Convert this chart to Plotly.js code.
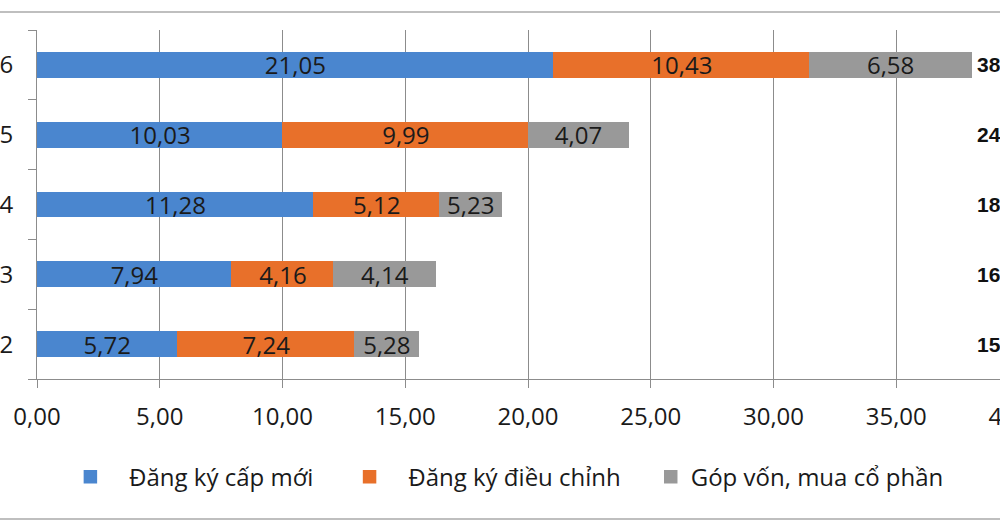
<!DOCTYPE html>
<html>
<head>
<meta charset="utf-8">
<script src="https://cdn.plot.ly/plotly-3.0.1.min.js"></script>
<style>
  html, body { margin: 0; padding: 0; overflow: hidden; background: #fff; }
  #chart { position: absolute; left: -60px; top: 0; width: 1160px; height: 525px; }
</style>
</head>
<body>
<div id="chart"></div>
<script>
var years = ['2012', '2013', '2014', '2015', '2016'];

var newReg = [5.72, 7.94, 11.28, 10.03, 21.05];
var adjReg = [7.24, 4.16, 5.12, 9.99, 10.43];
var shareBuy = [2.58, 4.14, 2.53, 4.07, 6.58];

// labels as printed on the bars
var newLabels = ['5,72', '7,94', '11,28', '10,03', '21,05'];
var adjLabels = ['7,24', '4,16', '5,12', '9,99', '10,43'];
var shareLabels = ['5,28', '4,14', '5,23', '4,07', '6,58'];

var totalLabels = ['15,54', '16,24', '18,93', '24,09', '38,06'];

var xTicks = [0, 5, 10, 15, 20, 25, 30, 35, 40];

var textFont = { family: 'Open Sans', size: 24, color: '#1a1a1a' };

// non-breaking spaces to get the wider legend spacing of the original
var pad = function (n) { return new Array(n + 1).join('\u00a0'); };

function barTrace(name, values, labels, color) {
  return {
    type: 'bar',
    orientation: 'h',
    name: name,
    y: years,
    x: values,
    text: labels,
    textposition: 'inside',
    insidetextanchor: 'middle',
    constraintext: 'none',
    textfont: textFont,
    // outline in the fill colour, so the legend square comes out bigger
    marker: { color: color, line: { color: color, width: 1.5 } },
    hoverinfo: 'skip'
  };
}

var data = [
  barTrace(pad(3) + 'Đăng ký cấp mới' + pad(5), newReg, newLabels, '#4a86cf'),
  barTrace(pad(3) + 'Đăng ký điều chỉnh' + pad(4), adjReg, adjLabels, '#e8702a'),
  barTrace('Góp vốn, mua cổ phần', shareBuy, shareLabels, '#999999')
];

// totals on the right, placed by category index
var annotations = years.map(function (yr, i) {
  return {
    xref: 'x', yref: 'y',
    x: 38.2, y: i,
    xanchor: 'left', yanchor: 'middle',
    text: '<b>' + totalLabels[i] + '</b>',
    showarrow: false,
    font: { family: 'Liberation Sans', size: 21, color: '#111' }
  };
});

var layout = {
  width: 1160,
  height: 525,
  margin: { l: 97, r: 81, t: 30, b: 146 },
  paper_bgcolor: '#fff',
  plot_bgcolor: '#fff',
  barmode: 'stack',
  bargap: 0.65,
  separators: ',.',
  font: textFont,
  showlegend: true,
  legend: {
    orientation: 'h',
    x: 0.034, xanchor: 'left',
    y: -0.281, yanchor: 'middle',
    font: { family: 'Open Sans', size: 24, color: '#1a1a1a' },
    traceorder: 'normal'
  },
  xaxis: {
    range: [0, 40],
    tickvals: xTicks,
    tickformat: '.2f',
    showgrid: true,
    gridcolor: '#8c8c8c',
    gridwidth: 1,
    showline: true,
    linecolor: '#8c8c8c',
    linewidth: 1,
    ticks: 'outside',
    ticklen: 8,
    tickcolor: '#8c8c8c',
    ticklabelstandoff: 8,
    zeroline: false,
    tickfont: textFont,
    fixedrange: true
  },
  yaxis: {
    type: 'category',
    categoryorder: 'array',
    categoryarray: years,
    range: [-0.5, 4.5],
    showgrid: false,
    showline: true,
    linecolor: '#8c8c8c',
    linewidth: 1,
    ticks: 'outside',
    tickson: 'boundaries',
    ticklen: 8,
    tickcolor: '#8c8c8c',
    ticklabelstandoff: 18,
    zeroline: false,
    tickfont: textFont,
    fixedrange: true
  },
  annotations: annotations,
  shapes: [
    { type: 'line', xref: 'paper', yref: 'paper', x0: -0.2, x1: 1.2, y0: 1.0516, y1: 1.0516,
      line: { color: '#aaaaaa', width: 1.5 } },
    { type: 'line', xref: 'paper', yref: 'paper', x0: -0.2, x1: 1.2, y0: -0.401, y1: -0.401,
      line: { color: '#aaaaaa', width: 1.5 } }
  ]
};

Plotly.newPlot('chart', data, layout, { displayModeBar: false, staticPlot: true });
</script>
</body>
</html>
